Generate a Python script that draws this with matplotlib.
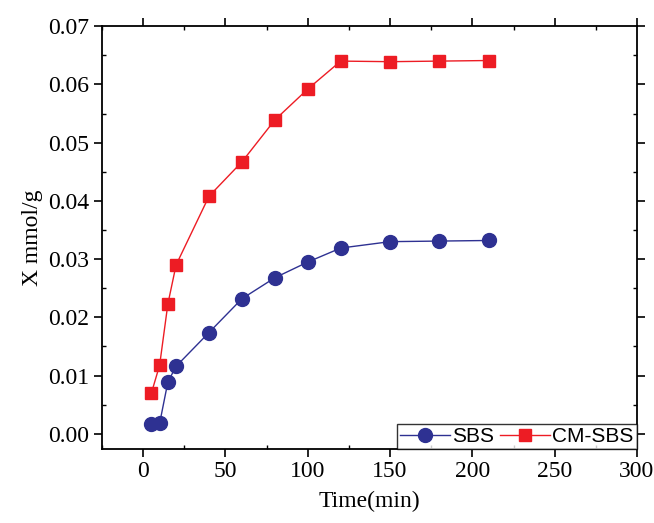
import numpy as np
import matplotlib.pyplot as plt
from matplotlib.ticker import MultipleLocator

# data
time = [5, 10, 15, 20, 40, 60, 80, 100, 120, 150, 180, 210]
sbs = [0.0017, 0.0018, 0.0089, 0.0116, 0.0174, 0.0232, 0.0268, 0.0295, 0.0319, 0.0330, 0.0331, 0.0332]
cm_sbs = [0.0070, 0.0118, 0.0223, 0.0290, 0.0408, 0.0467, 0.0539, 0.0592, 0.0640, 0.0639, 0.0640, 0.0641]

fig = plt.figure(figsize=(6.54, 5.23), dpi=100)
ax = fig.add_axes([0.156, 0.1415, 0.818, 0.8085])

ax.plot(time, sbs, color='#2E3192', marker='o', markersize=10, lw=1, label='SBS')
ax.plot(time, cm_sbs, color='#ED1C24', marker='s', markersize=9, lw=1, label='CM-SBS')

ax.set_xlim(-25, 300)
ax.set_ylim(-0.0026, 0.07)
ax.xaxis.set_major_locator(MultipleLocator(50))
ax.xaxis.set_minor_locator(MultipleLocator(25))
ax.yaxis.set_major_locator(MultipleLocator(0.01))
ax.yaxis.set_minor_locator(MultipleLocator(0.005))
ax.yaxis.set_major_formatter(plt.FormatStrFormatter('%.2f'))

ax.tick_params(which='major', direction='out', length=6, width=1.2, labelsize=17, pad=3)
ax.tick_params(which='minor', direction='in', length=3, width=1)
ax.tick_params(which='both', top=True, right=True, labeltop=False, labelright=False)
for lab in ax.get_xticklabels() + ax.get_yticklabels():
    lab.set_fontfamily('Liberation Serif')
for s in ax.spines.values():
    s.set_linewidth(1.3)

ax.set_xlabel('Time(min)', fontsize=17, family='Liberation Serif', labelpad=6)
ax.set_ylabel('X mmol/g', fontsize=17, family='Liberation Serif', labelpad=4)

leg = ax.legend(loc='lower right', ncol=2, frameon=True, fancybox=False, edgecolor='black',
                prop={'family': 'Liberation Sans', 'size': 15}, borderaxespad=0,
                handlelength=2.4, columnspacing=0.3, handletextpad=0.1, borderpad=0.15)
leg.get_frame().set_linewidth(1)

plt.savefig('out.png')
